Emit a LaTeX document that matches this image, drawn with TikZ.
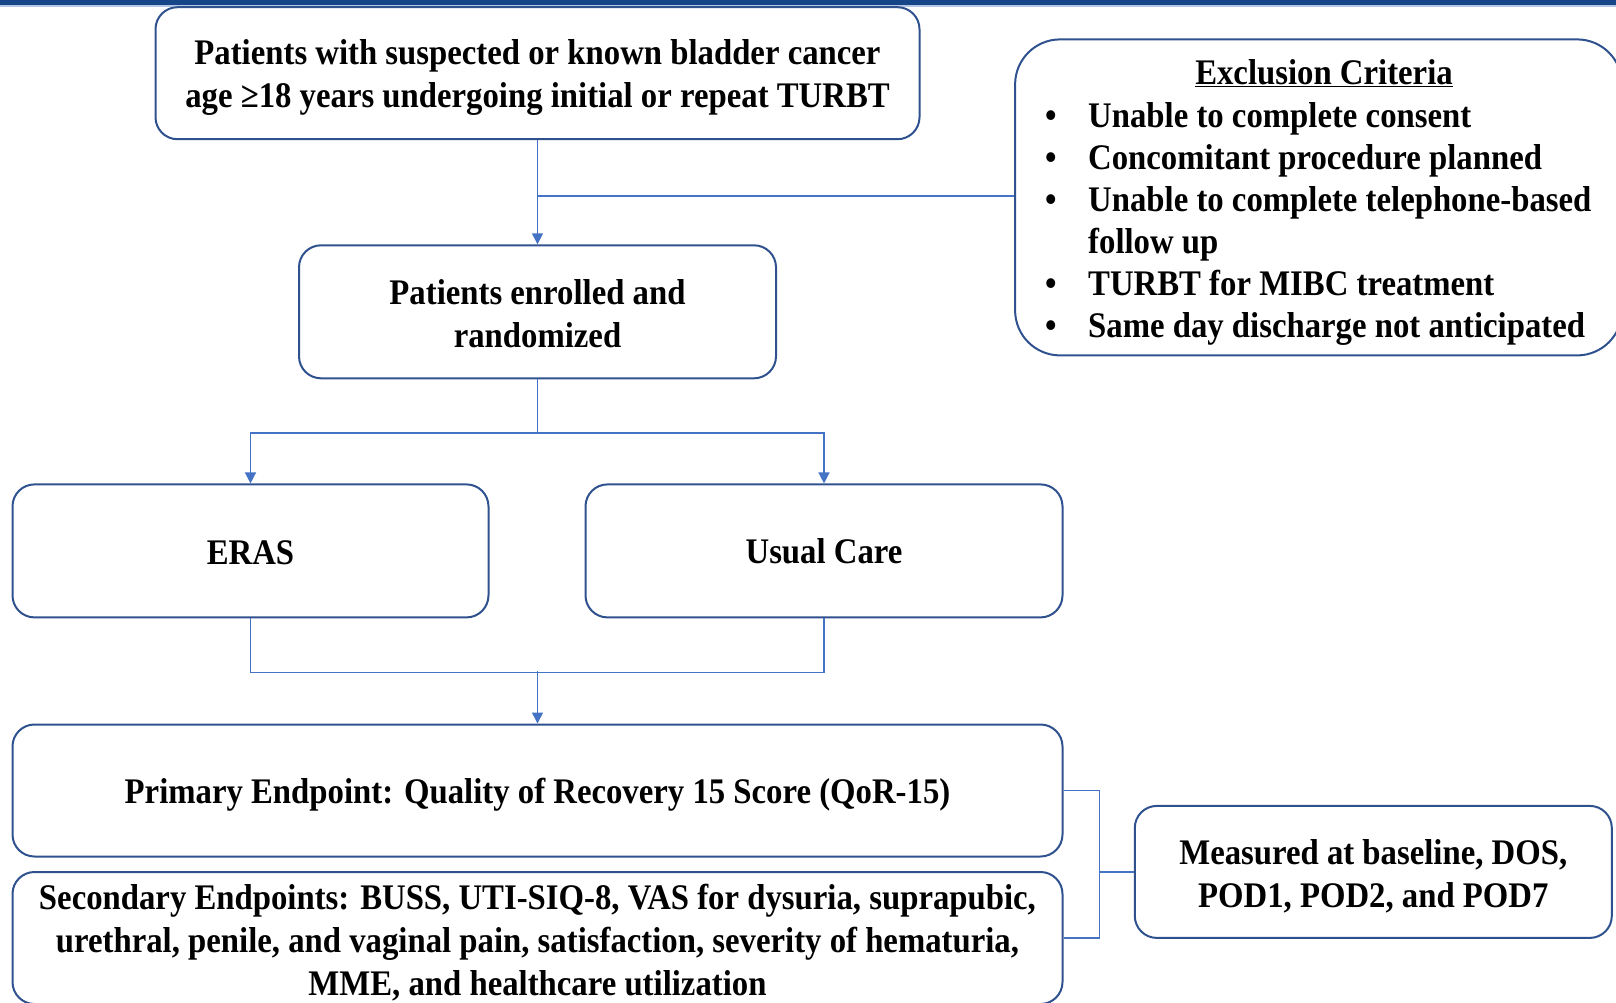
\documentclass[tikz,border=0pt]{standalone}
\usepackage{fontspec}
\setmainfont{Liberation Serif}[FakeStretch=0.91]
\usetikzlibrary{arrows.meta,calc}
\definecolor{boxblue}{RGB}{47,82,143}
\definecolor{lineblue}{RGB}{68,114,196}
\definecolor{barblue}{RGB}{22,70,135}
\begin{document}
\begin{tikzpicture}[x=1pt,y=-1pt,
  box/.style={draw=boxblue, line width=2pt, rounded corners=22pt, align=center, inner sep=0pt,
    font=\fontsize{36}{43}\selectfont\bfseries},
  txt/.style={inner sep=0pt, font=\fontsize{36}{42}\selectfont\bfseries},
  conn/.style={draw=lineblue, line width=1.5pt},
  arr/.style={conn, -{Triangle[width=11pt,length=11pt]}}]
\useasboundingbox (0,0) rectangle (1616,1002);
\fill[barblue] (0,0) rectangle (1616,5);
\fill[lineblue!40] (0,5) rectangle (1616,6.5);

\node[box, text height=76pt, minimum width=764pt, minimum height=132pt] (top) at (537.5,73.2)
  {Patients with suspected or known bladder cancer\\age ≥18 years undergoing initial or repeat TURBT};
\node[box, text height=72pt, minimum width=477pt, minimum height=133pt] (enrol) at (537.5,311.8)
  {Patients enrolled and\\randomized};
\node[box, text height=28pt, minimum width=476pt, minimum height=133pt] (eras) at (250.5,550.9) {ERAS};
\node[box, text height=26pt, minimum width=477pt, minimum height=133pt] (usual) at (824,550.9) {Usual Care};
\node[box, text height=33pt, minimum width=1050pt, minimum height=132pt] (primary) at (537.5,790.5)
  {Primary Endpoint: Quality of Recovery 15 Score (QoR-15)};
\node[box, text height=121pt, minimum width=1050pt, minimum height=132pt] (secondary) at (537.5,938)
  {Secondary Endpoints: BUSS, UTI-SIQ-8, VAS for dysuria, suprapubic,\\urethral, penile, and vaginal pain, satisfaction, severity of hematuria,\\MME, and healthcare utilization};
\node[box, text height=76pt, minimum width=477pt, minimum height=132pt] (measured) at (1373.3,871.9)
  {Measured at baseline, DOS,\\POD1, POD2, and POD7};
\node[box, rounded corners=45pt, minimum width=607pt, minimum height=316pt] (excl) at (1318.6,197.4) {};
\node[txt] (excltitle) at (1324,73) {\underline{Exclusion Criteria}};
\node[txt, anchor=north west, align=left] (excllist) at (1045,97.6)
  {\begin{tabular}{@{}p{43pt}@{}l@{}}
   •&Unable to complete consent\\
   •&Concomitant procedure planned\\
   •&Unable to complete telephone-based\\
    &follow up\\
   •&TURBT for MIBC treatment\\
   •&Same day discharge not anticipated
   \end{tabular}};

\draw[arr] (top.south) -- (enrol.north);
\draw[conn] (excl.west |- 0,196) -- (top.south |- 0,196);
\draw[arr] (enrol.south) -- ++(0,53.6) -| (eras.north);
\draw[arr] (enrol.south) -- ++(0,53.6) -| (usual.north);
\draw[conn] (eras.south) -- ++(0,54) -| (usual.south);
\coordinate (merge) at (enrol.south |- 0,671);
\draw[arr] (merge) -- (primary.north);
\coordinate (bx) at (1099.7,0);
\draw[conn] (primary.east) -| (bx |- secondary.east) -- (secondary.east);
\draw[conn] (bx |- measured.west) -- (measured.west);
\end{tikzpicture}
\end{document}
